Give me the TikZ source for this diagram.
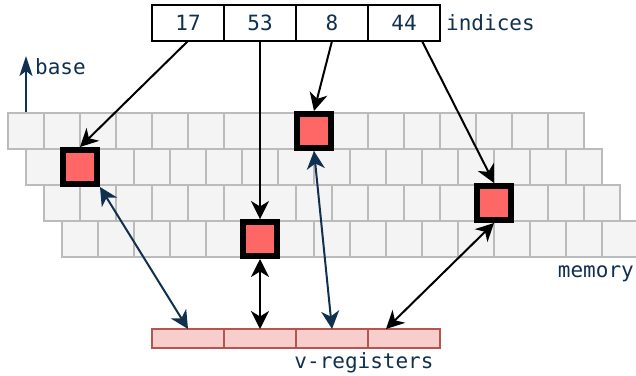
\documentclass[tikz,border=0pt]{standalone}
\usepackage{fontspec}
\setmonofont{DejaVu Sans Mono}
\usetikzlibrary{arrows.meta,positioning,calc}
\definecolor{inkblue}{HTML}{10304F}
\definecolor{cellgray}{HTML}{F4F4F4}
\definecolor{cellline}{HTML}{BBBBBB}
\definecolor{hitred}{HTML}{FF6666}
\definecolor{regpink}{HTML}{F8CECC}
\definecolor{regline}{HTML}{B85450}

\begin{document}
\begin{tikzpicture}[
  x=1pt, y=-1pt,
  >={Stealth[length=18pt,width=18pt,inset=5.5pt]},
  every node/.style={font=\ttfamily\fontsize{21}{25}\selectfont},
  memcell/.style={draw=cellline,fill=cellgray,line width=2pt,minimum size=36pt,inner sep=0pt},
  hitcell/.style={draw=black,fill=hitred,line width=6pt,minimum size=34pt,inner sep=0pt},
  idxcell/.style={draw=black,line width=1.6pt,minimum width=72pt,minimum height=36pt,inner sep=0pt,outer sep=0pt,text=inkblue},
  regcell/.style={draw=regline,fill=regpink,line width=1.6pt,minimum width=72pt,minimum height=19pt,inner sep=0pt,outer sep=0pt},
  tag/.style={text=inkblue,inner sep=2pt},
  fetch/.style={->,line width=2pt},
  move/.style={<->,line width=2pt}
]
  \useasboundingbox (0,0) rectangle (636,375);

  % memory: four staggered rows of 16 words
  \foreach \r in {0,...,3}
    \foreach \c in {0,...,15}
      \node[memcell] (m-\r-\c) at ({26+18*\r+36*\c},{131+36*\r}) {};

  % gathered words
  \node[hitcell] (h17) at (m-1-1) {};
  \node[hitcell] (h53) at (m-3-5) {};
  \node[hitcell] (h8) at (m-0-8) {};
  \node[hitcell] (h44) at (m-2-12) {};

  % index vector
  \node[idxcell] (i17) at (188,23) {17};
  \node[idxcell,right=0pt of i17] (i53) {53};
  \node[idxcell,right=0pt of i53] (i8) {8};
  \node[idxcell,right=0pt of i8] (i44) {44};
  \node[tag,right=4pt of i44] (idxlbl) {indices};

  % vector register
  \node[regcell] (r1) at (188,338.5) {};
  \node[regcell,right=0pt of r1] (r2) {};
  \node[regcell,right=0pt of r2] (r3) {};
  \node[regcell,right=0pt of r3] (r4) {};
  \node[tag,below=2pt of r3.south east,xshift=-4pt] (reglbl) {v-registers};

  \node[tag,anchor=east] (memlbl) at (636,274) {memory};

  % base pointer
  \coordinate (basetip) at (26,56);
  \draw[-{Stealth[length=20pt,width=13pt,inset=5pt]},inkblue,line width=2.2pt] (m-0-0.north) -- (basetip);
  \node[tag,anchor=west] (baselbl) at (33,67) {base};

  % address lookups
  \draw[fetch] (i17.south) -- (h17.north);
  \draw[fetch] (i53.south) -- (h53.north);
  \draw[fetch] (i8.south) -- (h8.north);
  \draw[fetch] ($(i44.south)!.5!(i44.south east)$) -- (h44.north);

  % loads/stores between memory and register lanes
  \draw[move,inkblue] (h17.south east) -- (r1.north);
  \draw[move] (h53.south) -- (r2.north);
  \draw[move,inkblue] (h8.south) -- (r3.north);
  \draw[move] (h44.south) -- ($(r4.north west)!.25!(r4.north east)$);
\end{tikzpicture}
\end{document}
